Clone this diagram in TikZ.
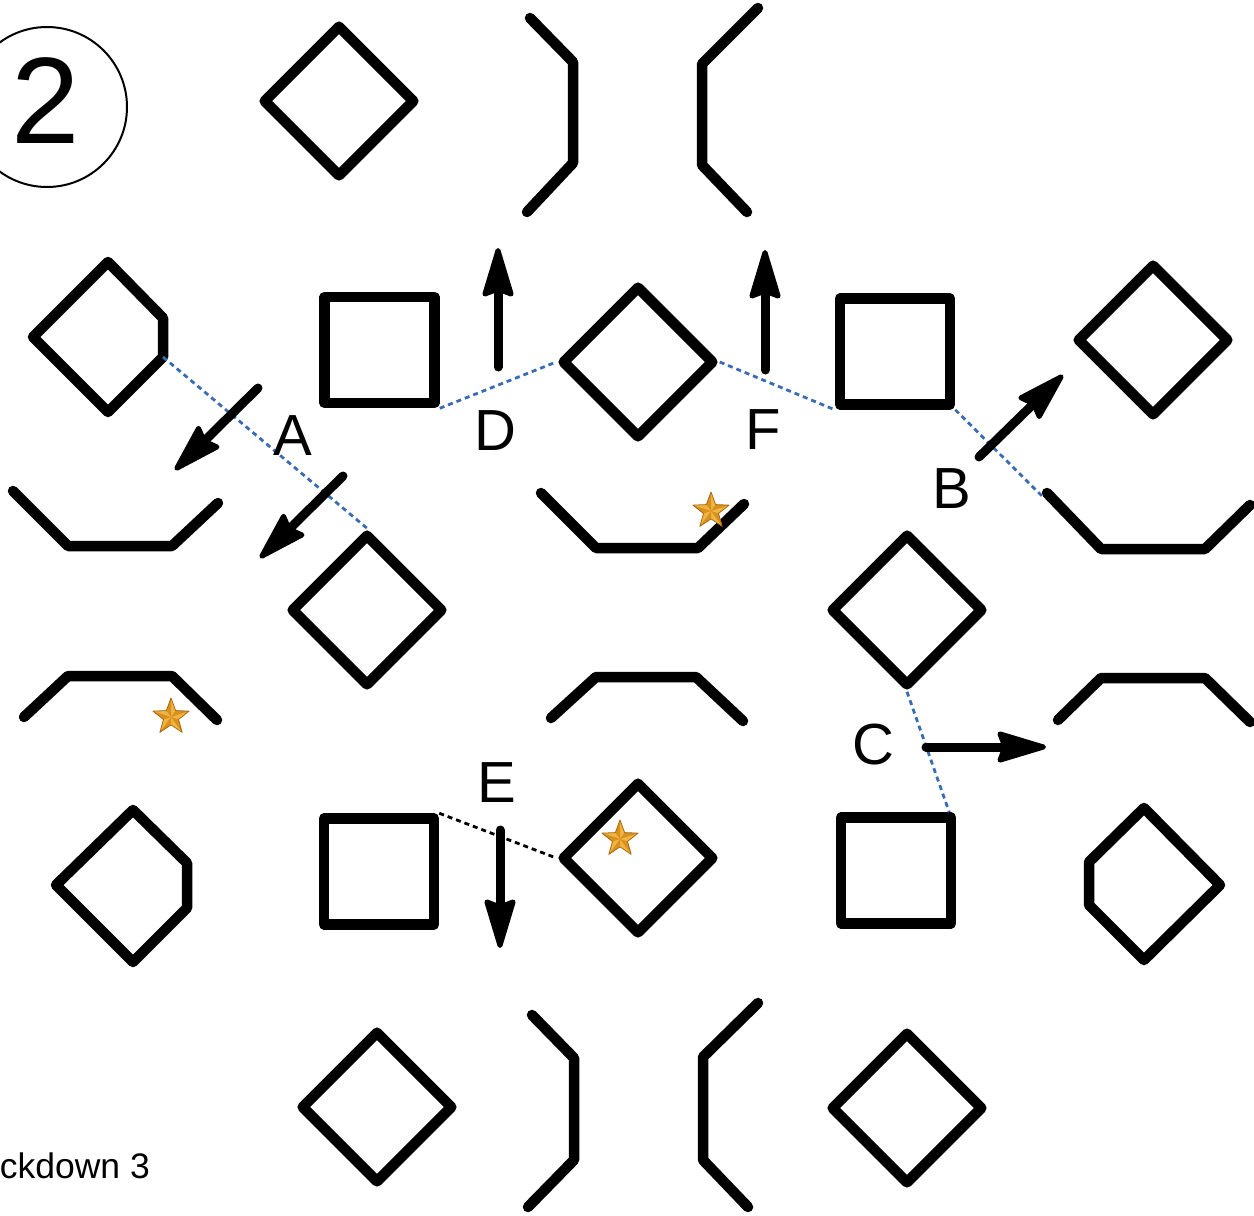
\documentclass[tikz,border=0pt]{standalone}
\usepackage{fontspec}
\setmainfont{Liberation Sans}
\usetikzlibrary{arrows.meta,shapes.geometric}
\definecolor{dotblue}{HTML}{3A6BB5}
\definecolor{stargold}{HTML}{F0B440}
\definecolor{starmid}{HTML}{D89020}
\definecolor{stardark}{HTML}{A86A10}
\begin{document}
\begin{tikzpicture}[x=1pt,y=-1pt,
  outl/.style={line width=10.5pt, line join=round, line cap=round},
  dia/.style={diamond, draw, line width=10.5pt, line join=round, minimum size=153pt, inner sep=0pt, aspect=1},
  sq/.style={rectangle, draw, line width=10.5pt, line join=round, minimum width=110pt, minimum height=106pt, inner sep=0pt},
  mov/.style={line width=9pt, line cap=round, -{Stealth[length=56pt,width=33pt,inset=6pt,line width=5pt,round]}},
  link/.style={dotblue, line width=2.8pt, dash pattern=on 5pt off 4pt},
  blink/.style={black, line width=2.8pt, dash pattern=on 5pt off 4pt},
  lbl/.style={font=\fontsize{58}{60}\selectfont, inner sep=0pt},
  goldstar/.pic={
    \begin{scope}[yscale=-1]
    \fill[stargold]
      (90:19) -- (126:7.9) -- (162:19) -- (198:7.9) -- (234:19) -- (270:7.9) -- (306:19) -- (342:7.9) -- (18:19) -- (54:7.9) -- cycle;
    \foreach \a in {90,162,234,306,18}{
      \fill[starmid] (0,0) -- (\a:19) -- ({\a+36}:7.9) -- cycle;
    }
    \draw[stardark, line width=0.8pt, line join=round]
      (90:19) -- (126:7.9) -- (162:19) -- (198:7.9) -- (234:19) -- (270:7.9) -- (306:19) -- (342:7.9) -- (18:19) -- (54:7.9) -- cycle;
    \end{scope}
  }]
\useasboundingbox (0,0) rectangle (1254,1216);

% circled number
\node[circle, draw, line width=2pt, minimum size=160pt, inner sep=0pt] (badge) at (47,107) {};
\node[font=\fontsize{123}{125}\selectfont, inner sep=0pt] (num) at (46,101) {2};
\node[font=\fontsize{35.5}{37}\selectfont, inner sep=0pt, anchor=base east] (cap) at (150,1178) {ckdown 3};

% diamonds
\node[dia] (d1) at (339,101) {};
\node[dia] (d2) at (638,362) {};
\node[dia] (d3) at (1153,340) {};
\node[dia] (d4) at (367,610) {};
\node[dia] (d5) at (907,610) {};
\node[dia] (d6) at (638,858) {};
\node[dia] (d7) at (377,1107) {};
\node[dia] (d8) at (907,1108) {};

% squares
\node[sq] (s1) at (379.5,350) {};
\node[sq] (s2) at (895,351.5) {};
\node[sq] (s3) at (379,871.5) {};
\node[sq] (s4) at (896,870.5) {};

% cut diamonds
\coordinate (p1c) at (163,357);
\draw[outl] (108,262) -- (163,318) -- (p1c) -- (108,412) -- (33,337) -- cycle;
\draw[outl] (133,810) -- (187,863) -- (187,908) -- (133,962) -- (56,885) -- cycle;
\draw[outl] (1144,808) -- (1220,885) -- (1144,960) -- (1089,905) -- (1089,862) -- cycle;

% brackets
\draw[outl] (530,18) -- (573,62) -- (573,163) -- (527,212);
\draw[outl] (758,8) -- (702,64) -- (702,165) -- (747,212);
\draw[outl] (532,1015) -- (574,1058) -- (574,1160) -- (528,1207);
\draw[outl] (758,1003) -- (703,1057) -- (703,1160) -- (748,1207);

% trays
\draw[outl] (13,491) -- (68,546) -- (172,546) -- (218,503);
\draw[outl] (541,493) -- (596,548) -- (698,548) -- (744,504);
\coordinate (t3) at (1047,493);
\draw[outl] (t3) -- (1101,549) -- (1205,549) -- (1250,505);
% caps
\draw[outl] (24,717) -- (68,676) -- (172,676) -- (217,720);
\draw[outl] (551,718) -- (596,677) -- (696,677) -- (743,721);
\draw[outl] (1058,720) -- (1101,678) -- (1205,678) -- (1250,722);

% links
\draw[link] (p1c) -- (d4.north);
\draw[link] (s1.south east) -- (d2.west);
\draw[link] (d2.east) -- (s2.south west);
\draw[link] (s2.south east) -- ([xshift=-5pt,yshift=-3pt]t3);
\draw[link] (d5.south) -- ([xshift=-7pt]s4.north east);
\draw[blink] (s3.north east) -- (d6.west);

% arrows
\coordinate (a1s) at (258,388); \coordinate (a1e) at (175,470);
\coordinate (a2s) at (343,476); \coordinate (a2e) at (260,558);
\coordinate (ds) at (498,367);  \coordinate (de) at (498,248);
\coordinate (fs) at (765,370);  \coordinate (fe) at (765,250);
\coordinate (bs) at (979,457);  \coordinate (be) at (1063,375);
\coordinate (cs) at (926,747);  \coordinate (ce) at (1046,747);
\coordinate (es) at (500,830);  \coordinate (ee) at (500,948);
\draw[mov] (a1s) -- (a1e);
\draw[mov] (a2s) -- (a2e);
\draw[mov] (ds) -- (de);
\draw[mov] (fs) -- (fe);
\draw[mov] (bs) -- (be);
\draw[mov] (cs) -- (ce);
\draw[mov] (es) -- (ee);

% labels
\node[lbl] (la) at (293,436) {A};
\node[lbl] (ld) at (495,431) {D};
\node[lbl] (lf) at (763,430) {F};
\node[lbl] (lb) at (952,489) {B};
\node[lbl] (lc) at (873,745) {C};
\node[lbl] (le) at (497,783) {E};

% stars
\pic at (711,511) {goldstar};
\pic at (171,717) {goldstar};
\pic at (620,839) {goldstar};
\end{tikzpicture}
\end{document}
